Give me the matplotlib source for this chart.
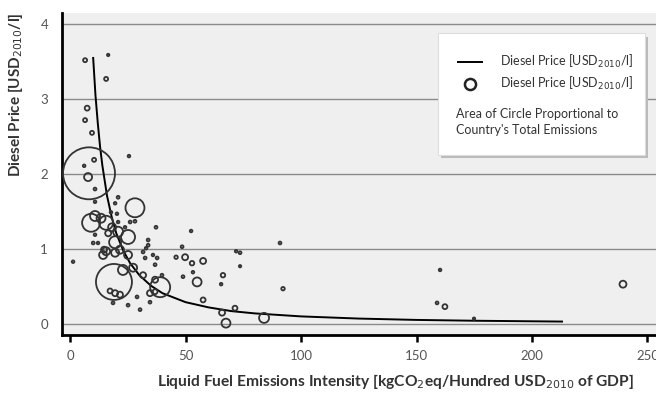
import matplotlib
matplotlib.use('Agg')
import matplotlib.pyplot as plt
from matplotlib.patches import Rectangle

# Fitted curve
fit_x = [10, 11, 12, 13, 14, 16, 18, 20, 23, 26, 30, 35, 40, 50, 60, 70, 80, 100, 125, 150, 175, 213]
fit_y = [3.55, 3.05, 2.68, 2.36, 2.11, 1.71, 1.43, 1.21, 0.98, 0.81, 0.65, 0.51, 0.41, 0.29, 0.22,
         0.17, 0.14, 0.10, 0.071, 0.053, 0.042, 0.031]

# Countries: emissions intensity, diesel price, total emissions (relative)
intensity = [6.5, 16.5, 15.6, 7.4, 6.5, 9.5, 8.2, 10.4, 6.1, 7.8,
             10.8, 25.5, 10.8, 20.8, 19.5, 28.1, 9.1, 10.8, 15.6, 13.4,
             25.1, 20.8, 19.5, 15.6, 21.6, 17.7, 26.0, 28.1, 20.8, 37.2,
             33.8, 33.8, 32.9, 10.0, 12.1, 23.8, 48.5, 52.4, 45.9, 49.8,
             57.6, 52.8, 48.9, 53.2, 55.0, 66.2, 65.4, 71.9, 73.6, 73.6,
             90.9, 92.2, 57.6, 65.8, 71.4, 67.5, 84.0, 1.3, 19.0, 39.0,
             19.5, 14.3, 25.1, 22.9, 27.3, 31.6, 19.5, 17.3, 21.6, 34.6,
             36.8, 18.6, 25.1, 29.0, 30.3, 34.6, 31.6, 32.5, 37.7, 36.8,
             39.8, 35.9, 160.2, 158.9, 162.3, 239.4, 174.9, 14.7, 16.5, 18.2,
             10.8, 20.3, 36.8]
price = [3.52, 3.59, 3.27, 2.88, 2.72, 2.55, 2.01, 2.19, 2.11, 1.96,
         1.80, 2.24, 1.63, 1.69, 1.61, 1.55, 1.35, 1.44, 1.35, 1.41,
         1.16, 1.23, 1.09, 0.97, 0.99, 1.49, 1.36, 1.37, 1.36, 1.29,
         1.12, 1.05, 1.01, 1.08, 1.08, 1.29, 1.03, 1.24, 0.89, 0.89,
         0.84, 0.81, 0.63, 0.69, 0.56, 0.65, 0.53, 0.97, 0.95, 0.77,
         1.08, 0.47, 0.32, 0.15, 0.21, 0.01, 0.08, 0.83, 0.56, 0.49,
         0.95, 0.92, 0.92, 0.72, 0.75, 0.65, 0.41, 0.44, 0.39, 0.41,
         0.43, 0.28, 0.25, 0.36, 0.19, 0.29, 0.96, 0.88, 0.88, 0.79,
         0.65, 0.92, 0.72, 0.28, 0.23, 0.53, 0.07, 0.99, 1.21, 1.29,
         1.19, 1.47, 0.59]
emissions = [4, 1.4, 4, 6, 4, 4, 676, 4, 1.7, 16,
             2, 1.7, 1.7, 2, 1.7, 90, 81, 25, 49, 20,
             49, 25, 36, 16, 16, 1.7, 2, 2, 1.7, 2,
             2, 2, 1.7, 2, 1.7, 1.7, 2, 1.7, 3, 9,
             9, 5, 2, 1.7, 20, 5, 1.7, 1.7, 2, 1.4,
             2, 3, 6, 9, 6, 20, 25, 1.7, 324, 100,
             16, 16, 16, 25, 16, 9, 9, 6, 9, 9,
             6, 2, 2, 2, 2, 2, 2, 2, 2, 2,
             2, 1.7, 1.7, 2, 6, 12, 1.4, 9, 9, 16,
             1.7, 1.7, 9]

font = ['Lato', 'DejaVu Sans']

fig = plt.figure(figsize=(6.56, 3.94), dpi=100)
ax = fig.add_axes([0.0945, 0.150, 0.9055, 0.817])
ax.set_facecolor('#efefef')

ax.plot(fit_x, fit_y, color='black', lw=1.4, zorder=3)
ax.scatter(intensity, price, s=[2.07 * e for e in emissions], facecolors='none',
           edgecolors='#333333', linewidths=1.3, zorder=4)

ax.set_xlim(-3.5, 253.7)
ax.set_ylim(-0.147, 4.15)
ax.set_xticks([0, 50, 100, 150, 200, 250])
ax.set_yticks([0, 1, 2, 3, 4])
ax.yaxis.grid(True, color='#8a8a8a', lw=1)
ax.set_axisbelow(True)

for side in ['top', 'right']:
    ax.spines[side].set_visible(False)
for side in ['left', 'bottom']:
    ax.spines[side].set_linewidth(2)

ax.tick_params(axis='x', direction='out', length=5, width=1.8, pad=6,
               labelsize=9.5, labelcolor='#555555')
ax.tick_params(axis='y', length=0, pad=10, labelsize=9.5, labelcolor='#555555')
for lab in ax.get_xticklabels() + ax.get_yticklabels():
    lab.set_family(font)

ax.set_xlabel('Liquid Fuel Emissions Intensity [kgCO$_2$eq/Hundred USD$_{2010}$ of GDP]',
              fontsize=11.2, fontweight='bold', color='#333333', family=font)
ax.xaxis.set_label_coords(0.562, -0.115)
ax.set_ylabel('Diesel Price [USD$_{2010}$/l]', fontsize=11, fontweight='bold',
              color='#333333', family=font)
ax.yaxis.set_label_coords(-0.062, 0.745)

# legend box drawn by hand
tr = ax.transAxes
ax.add_patch(Rectangle((0.638, 0.548), 0.348, 0.379, transform=tr, facecolor='#bbbbbb',
                       edgecolor='none', zorder=5))
ax.add_patch(Rectangle((0.633, 0.559), 0.348, 0.379, transform=tr, facecolor='white',
                       edgecolor='#dddddd', lw=0.8, zorder=6))
ax.plot([0.667, 0.707], [0.848, 0.848], transform=tr, color='black', lw=1.4, zorder=7)
ax.plot([0.687], [0.780], transform=tr, marker='o', ms=8, mfc='none', mec='#222222',
        mew=1.8, zorder=7)
leg_kw = dict(transform=tr, fontsize=9, color='#333333', family=font, zorder=7,
              va='center')
ax.text(0.737, 0.848, 'Diesel Price [USD$_{2010}$/l]', **leg_kw)
ax.text(0.737, 0.780, 'Diesel Price [USD$_{2010}$/l]', **leg_kw)
ax.text(0.663, 0.660, "Area of Circle Proportional to\nCountry's Total Emissions",
        linespacing=1.4, **leg_kw)

fig.savefig('out.png', dpi=100)
